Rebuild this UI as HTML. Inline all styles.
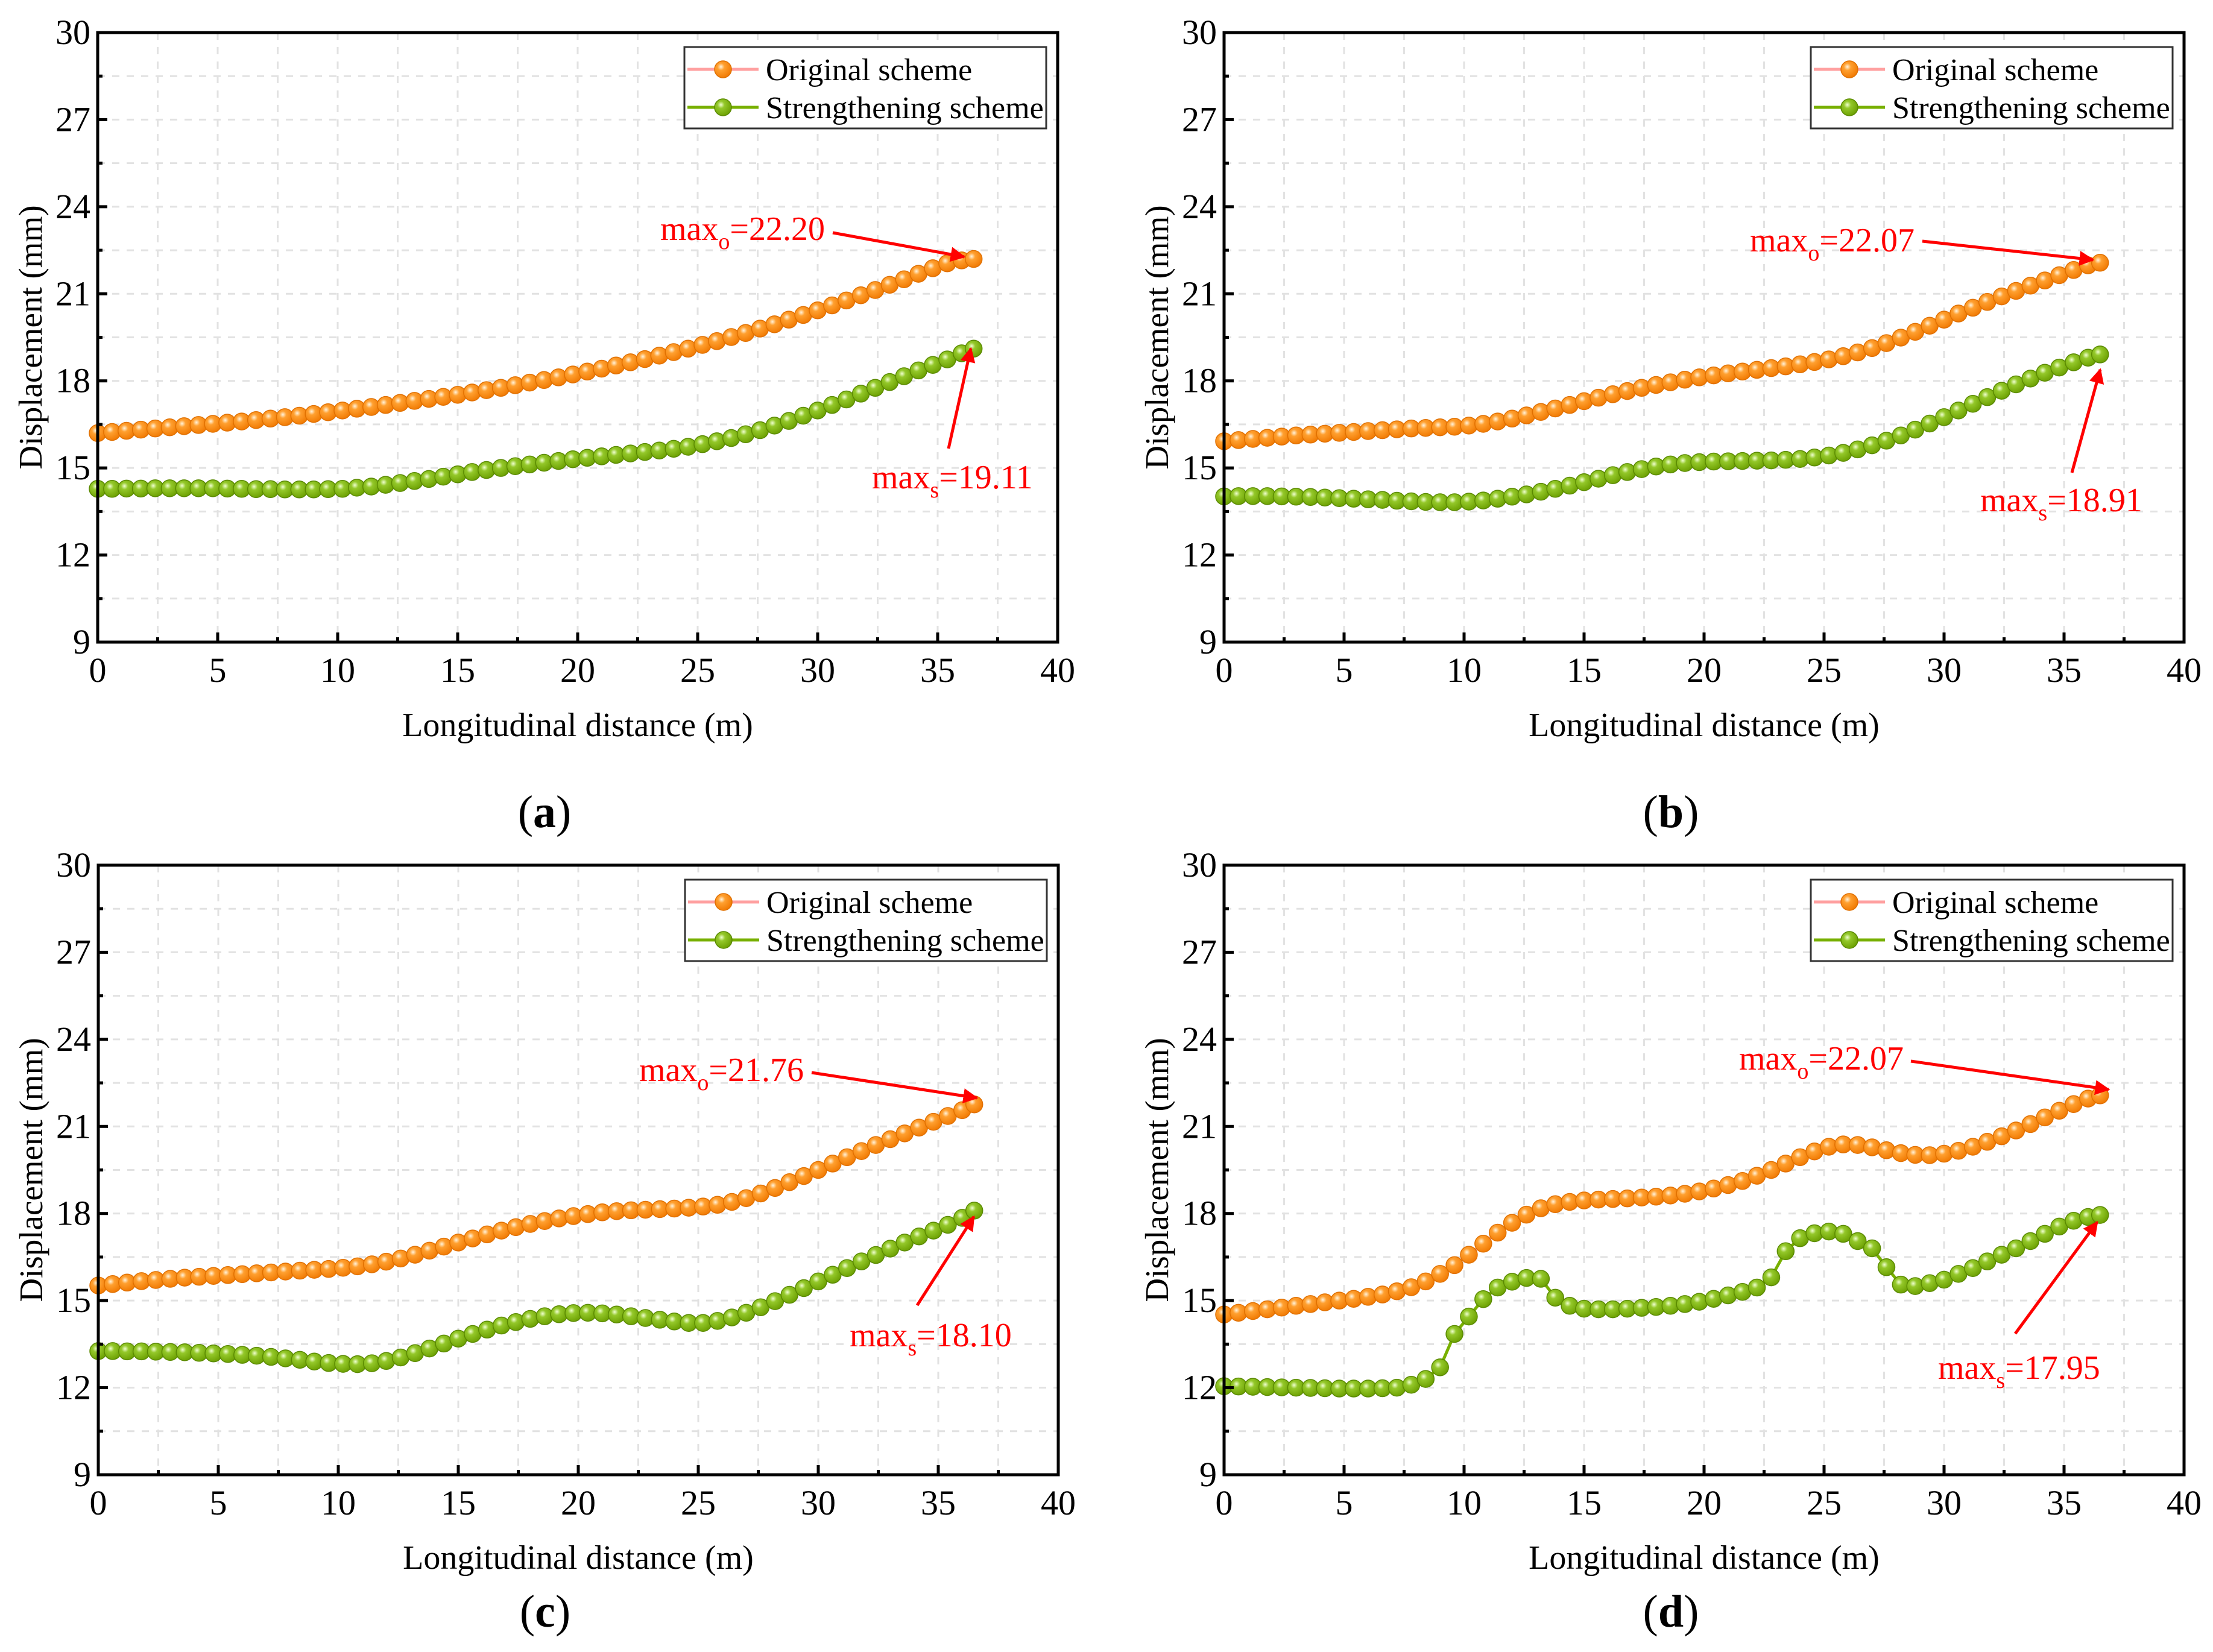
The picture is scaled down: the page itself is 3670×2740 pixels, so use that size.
<!DOCTYPE html>
<html><head><meta charset="utf-8"><style>
html,body{margin:0;padding:0;background:#fff;}
svg{display:block;font-family:"Liberation Serif",serif;}
</style></head><body>
<svg id="fig" xmlns="http://www.w3.org/2000/svg" width="3670" height="2740" viewBox="0 0 3670 2740">
<defs>
<radialGradient id="gO" cx="0.38" cy="0.35" r="0.7"><stop offset="0" stop-color="#fff3dc"/><stop offset="0.3" stop-color="#ffa030"/><stop offset="1" stop-color="#f07800"/></radialGradient>
<radialGradient id="gG" cx="0.38" cy="0.35" r="0.7"><stop offset="0" stop-color="#f0ffd0"/><stop offset="0.3" stop-color="#94c82a"/><stop offset="1" stop-color="#6a9e00"/></radialGradient>
<marker id="arr" viewBox="0 0 10 10" refX="9" refY="5" markerWidth="5" markerHeight="5" orient="auto"><path d="M0,0 L10,5 L0,10 z" fill="#ff0000"/></marker>
</defs>
</svg>
<script>
// shared x positions (m)
const xs = [0,0.6,1.2,1.8,2.4,3.0,3.6,4.2,4.8,5.4,6.0,6.6,7.2,7.8,8.4,9.0,9.6,10.2,10.8,11.4,12.0,12.6,13.2,13.8,14.4,15.0,15.6,16.2,16.8,17.4,18.0,18.6,19.2,19.8,20.4,21.0,21.6,22.2,22.8,23.4,24.0,24.6,25.2,25.8,26.4,27.0,27.6,28.2,28.8,29.4,30.0,30.6,31.2,31.8,32.4,33.0,33.6,34.2,34.8,35.4,36.0,36.5];
const xTicks = [0,5,10,15,20,25,30,35,40];
const yTicks = [9,12,15,18,21,24,27,30];
const panelLabels = ["a","b","c","d"];
const maxOLabels = ["22.20","22.07","21.76","22.07"];
const maxSLabels = ["19.11","18.91","18.10","17.95"];

const origA = [16.20,16.24,16.28,16.32,16.36,16.40,16.44,16.48,16.52,16.56,16.60,16.65,16.70,16.75,16.80,16.86,16.92,16.98,17.04,17.10,17.17,17.24,17.31,17.38,17.45,17.52,17.60,17.68,17.76,17.85,17.94,18.03,18.12,18.22,18.32,18.42,18.53,18.64,18.75,18.87,18.99,19.11,19.24,19.37,19.51,19.65,19.80,19.95,20.11,20.27,20.43,20.60,20.77,20.95,21.13,21.31,21.50,21.69,21.88,22.05,22.15,22.20];
const strA = [14.28,14.28,14.29,14.29,14.30,14.30,14.30,14.30,14.30,14.29,14.28,14.27,14.27,14.26,14.26,14.26,14.27,14.28,14.32,14.36,14.42,14.48,14.55,14.62,14.70,14.78,14.86,14.93,15.00,15.06,15.12,15.18,15.24,15.30,15.35,15.40,15.45,15.50,15.55,15.60,15.66,15.73,15.82,15.92,16.03,16.16,16.30,16.46,16.62,16.80,16.98,17.17,17.36,17.56,17.76,17.96,18.16,18.36,18.55,18.74,18.95,19.11];
const origB = [15.92,15.96,16.00,16.04,16.08,16.12,16.15,16.18,16.21,16.24,16.27,16.30,16.33,16.36,16.38,16.40,16.42,16.46,16.52,16.60,16.70,16.81,16.93,17.05,17.17,17.30,17.42,17.54,17.65,17.76,17.86,17.95,18.04,18.12,18.19,18.26,18.32,18.38,18.44,18.50,18.57,18.65,18.74,18.85,18.98,19.13,19.30,19.49,19.69,19.90,20.11,20.32,20.52,20.72,20.91,21.10,21.28,21.46,21.64,21.82,21.98,22.07];
const strB = [14.02,14.03,14.03,14.03,14.02,14.01,14.00,13.98,13.96,13.94,13.92,13.90,13.87,13.85,13.83,13.82,13.82,13.84,13.88,13.94,14.01,14.09,14.18,14.28,14.39,14.51,14.63,14.75,14.86,14.96,15.05,15.12,15.17,15.20,15.22,15.23,15.24,15.25,15.26,15.28,15.31,15.36,15.43,15.52,15.64,15.78,15.94,16.12,16.32,16.53,16.75,16.98,17.21,17.44,17.66,17.88,18.08,18.28,18.46,18.64,18.80,18.91];
const origC = [15.52,15.57,15.62,15.67,15.71,15.75,15.79,15.82,15.85,15.88,15.91,15.94,15.97,16.00,16.03,16.06,16.09,16.13,16.18,16.25,16.34,16.45,16.58,16.72,16.86,17.00,17.14,17.28,17.41,17.53,17.64,17.74,17.83,17.91,17.98,18.04,18.08,18.11,18.13,18.15,18.17,18.20,18.24,18.30,18.40,18.53,18.69,18.88,19.08,19.29,19.50,19.72,19.94,20.15,20.36,20.56,20.76,20.96,21.16,21.36,21.56,21.76];
const strC = [13.26,13.26,13.25,13.25,13.24,13.23,13.22,13.20,13.18,13.16,13.13,13.10,13.06,13.01,12.96,12.90,12.85,12.82,12.81,12.84,12.92,13.04,13.19,13.35,13.52,13.69,13.85,14.00,14.14,14.26,14.37,14.46,14.53,14.57,14.58,14.56,14.52,14.46,14.40,14.34,14.28,14.23,14.23,14.30,14.42,14.58,14.77,14.98,15.20,15.43,15.66,15.89,16.12,16.35,16.57,16.79,17.00,17.21,17.41,17.61,17.85,18.10];
const origD = [14.52,14.58,14.64,14.70,14.76,14.82,14.88,14.94,15.00,15.06,15.13,15.21,15.32,15.46,15.66,15.92,16.22,16.58,16.96,17.34,17.68,17.96,18.18,18.32,18.40,18.45,18.48,18.50,18.52,18.55,18.58,18.62,18.68,18.76,18.86,18.98,19.12,19.30,19.50,19.72,19.94,20.14,20.30,20.38,20.36,20.28,20.18,20.08,20.02,20.01,20.06,20.16,20.30,20.47,20.66,20.86,21.08,21.31,21.54,21.77,21.96,22.07];
const strD = [12.05,12.04,12.03,12.02,12.01,12.00,11.99,11.98,11.97,11.97,11.97,11.98,12.00,12.10,12.30,12.70,13.85,14.45,15.05,15.45,15.65,15.78,15.75,15.10,14.82,14.72,14.70,14.70,14.72,14.75,14.78,14.82,14.88,14.96,15.06,15.18,15.30,15.45,15.80,16.70,17.15,17.32,17.38,17.30,17.05,16.80,16.15,15.55,15.50,15.60,15.72,15.92,16.12,16.35,16.58,16.80,17.05,17.30,17.55,17.75,17.88,17.95];

const origSeries = [origA, origB, origC, origD];
const strSeries = [strA, strB, strC, strD];

const NS = "http://www.w3.org/2000/svg";
const svg = document.getElementById("fig");
function mk(tag, attrs, parent) {
  const e = document.createElementNS(NS, tag);
  for (const k in attrs) e.setAttribute(k, attrs[k]);
  (parent || svg).appendChild(e);
  return e;
}
const W = 1592, H = 1011;
const origins = [[162,54],[2030,54],[163,1435],[2030,1435]];
const labelY = [1372,1372,2698,2698];
// annotation layout (pixel offsets relative to plot origin)
const annoO = [[933,325,1219,332,1437,372],[872,344,1158,346,1441,377],[897,339,1183,344,1457,386],[854,320,1139,325,1467,372]];
const annoS = [[1284,737,1411,690,1448,524],[1254,775,1406,730,1453,559],[1246,779,1358,730,1452,583],[1184,833,1312,777,1448,592]];

for (let p = 0; p < 4; p++) {
  const [L, T] = origins[p];
  const g = mk("g", {});
  
  
  const sx = v => L + (v / 40) * W;
  const sy = v => T + H - ((v - 9) / 21) * H;
  // grid
  const grid = mk("g", {stroke:"#e2e2e2","stroke-width":3,"stroke-dasharray":"12 12"}, g);
  
  
  for (let v = 2.5; v < 40; v += 2.5) mk("line",{x1:sx(v),x2:sx(v),y1:T,y2:T+H},grid);
  for (let v = 10.5; v < 30; v += 1.5) mk("line",{x1:L,x2:L+W,y1:sy(v),y2:sy(v)},grid);
  // series
  const defs = [[origSeries[p],"#ffa0a0","url(#gO)","#e07000","original"],[strSeries[p],"#78b000","url(#gG)","#5a8a00","strengthening"]];
  for (const [ys, lc, fc, sc, nm] of defs) {
    const sg = mk("g", {}, g);
    
    
    const pts = xs.map((x,i)=>sx(x).toFixed(1)+","+sy(ys[i]).toFixed(1)).join(" ");
    const pl = mk("polyline",{points:pts,fill:"none",stroke:lc,"stroke-width":5},sg);
    
    
    xs.forEach((x,i)=>{
      const c = mk("circle",{cx:sx(x),cy:sy(ys[i]),r:14,fill:fc,stroke:sc,"stroke-width":1.5},sg);
      
      
    });
  }
  // axes frame
  const fr = mk("rect",{x:L,y:T,width:W,height:H,fill:"none",stroke:"#000","stroke-width":5},g);
  
  
  const tk = mk("g",{stroke:"#000","stroke-width":5},g);
  for (let v = 2.5; v < 40; v += 2.5) { const len = (v % 5 === 0) ? 16 : 8; mk("line",{x1:sx(v),x2:sx(v),y1:T+H,y2:T+H-len},tk); }
  for (let v = 10.5; v < 30; v += 1.5) { const len = ((v - 9) % 3 === 0) ? 16 : 8; mk("line",{x1:L,x2:L+len,y1:sy(v),y2:sy(v)},tk); }
  // tick labels
  xTicks.forEach(v=>{
    const t = mk("text",{x:sx(v),y:T+H+66,"text-anchor":"middle","font-size":58,fill:"#000"},g);
    t.textContent = v;
    
    
  });
  yTicks.forEach(v=>{
    const t = mk("text",{x:L-12,y:sy(v)+19,"text-anchor":"end","font-size":58,fill:"#000"},g);
    t.textContent = v;
    
    
  });
  const xt = mk("text",{x:L+W/2,y:T+H+156,"text-anchor":"middle","font-size":56,fill:"#000"},g);
  xt.textContent = "Longitudinal distance (m)";
  
  
  const yt = mk("text",{x:0,y:0,"text-anchor":"middle","font-size":55,fill:"#000",transform:`translate(${L-93},${T+H/2}) rotate(-90)`},g);
  yt.textContent = "Displacement (mm)";
  
  
  const pl = mk("text",{x:L+W/2-55,y:labelY[p],"text-anchor":"middle","font-size":76,fill:"#000"},g);
  pl.innerHTML = '(<tspan font-weight="bold">' + panelLabels[p] + '</tspan>)';
  
  
  // legend
  const lg = mk("g",{},g);
  
  
  mk("rect",{x:L+973,y:T+24,width:600,height:135,fill:"#fff",stroke:"#333","stroke-width":3},lg);
  const rows = [["Original scheme","#ffa0a0","url(#gO)","#e07000",61],["Strengthening scheme","#78b000","url(#gG)","#5a8a00",124]];
  for (const [lab,lc,fc,sc,dy] of rows) {
    const e = mk("g",{},lg);
    
    
    mk("line",{x1:L+978,x2:L+1096,y1:T+dy,y2:T+dy,stroke:lc,"stroke-width":5},e);
    mk("circle",{cx:L+1037,cy:T+dy,r:14,fill:fc,stroke:sc,"stroke-width":1.5},e);
    const t = mk("text",{x:L+1108,y:T+dy+18,"font-size":52,fill:"#000"},e);
    t.textContent = lab;
  }
  // annotations
  const ao = annoO[p], as = annoS[p];
  const t1 = mk("text",{x:L+ao[0],y:T+ao[1]+19,"font-size":56,fill:"#ff0000"},g);
  t1.innerHTML = 'max<tspan font-size="38" dy="15">o</tspan><tspan dy="-15">=' + maxOLabels[p] + '</tspan>';
  
  
  const a1 = mk("line",{x1:L+ao[2],y1:T+ao[3],x2:L+ao[4],y2:T+ao[5],stroke:"#ff0000","stroke-width":5,"marker-end":"url(#arr)"},g);
  
  
  const t2 = mk("text",{x:L+as[0],y:T+as[1]+19,"font-size":56,fill:"#ff0000"},g);
  t2.innerHTML = 'max<tspan font-size="38" dy="15">s</tspan><tspan dy="-15">=' + maxSLabels[p] + '</tspan>';
  
  
  const a2 = mk("line",{x1:L+as[2],y1:T+as[3],x2:L+as[4],y2:T+as[5],stroke:"#ff0000","stroke-width":5,"marker-end":"url(#arr)"},g);
  
  
}
</script>
</body></html>
